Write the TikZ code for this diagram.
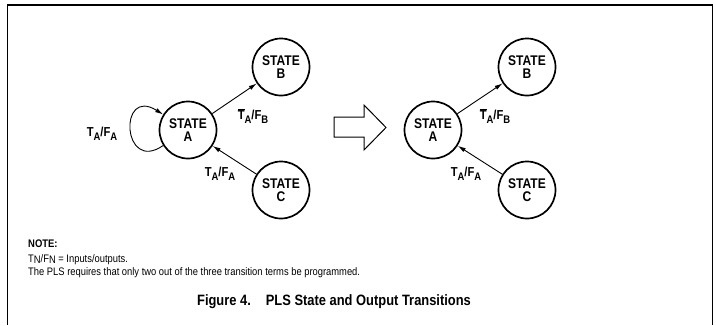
\documentclass[tikz,border=0pt]{standalone}
\usepackage{fontspec}
\setmainfont{Liberation Sans}
\newfontfamily\nfont[FakeStretch=0.86]{Liberation Sans}
\usetikzlibrary{arrows.meta}
\newcommand{\sbA}[1]{\raisebox{-0.28em}{\fontsize{11}{11}\selectfont #1}}
\begin{document}
\begin{tikzpicture}[x=1pt,y=-1pt,
  statenode/.style={circle,draw,line width=1.7pt,minimum size=57pt,inner sep=0pt,align=center,
    font=\nfont\bfseries\fontsize{14}{12.5}\selectfont},
  tr/.style={line width=0.9pt,-{Latex[length=8pt,width=4.5pt]}},
  lbl/.style={inner sep=0pt,font=\nfont\bfseries\fontsize{13}{13}\selectfont},
  notetext/.style={inner sep=0pt,anchor=base west,font=\nfont\fontsize{10.9}{12}\selectfont}]
\useasboundingbox (0,0) rectangle (716,325);
\draw[line width=1.6pt] (7.5,325) -- (7.5,5) -- (712.5,5) -- (712.5,325);
% left diagram
\node[statenode] (A1) at (188,130) {STATE\\A};
\node[statenode] (B1) at (281,67) {STATE\\B};
\node[statenode] (C1) at (281,190) {STATE\\C};
\draw[tr] (A1) -- (B1);
\draw[tr] (C1) -- (A1);
\draw[tr] (A1.212) .. controls (122,174) and (118,86) .. (A1.148);
\node[lbl] (l1) at (102,134) {T\sbA{A}/F\sbA{A}};
\node[lbl] (l2) at (253,116) {$\overline{\mbox{T}}$\sbA{A}/F\sbA{B}};
\node[lbl] (l3) at (220,174) {T\sbA{A}/F\sbA{A}};
% hollow arrow
\draw[line width=1pt,line join=miter] (334,117) -- (364,117) -- (364,105) -- (386,127.5) -- (364,150) -- (364,137) -- (334,137) -- cycle;
% right diagram
\node[statenode] (A2) at (433,130) {STATE\\A};
\node[statenode] (B2) at (527,67) {STATE\\B};
\node[statenode] (C2) at (527,190) {STATE\\C};
\draw[tr] (A2) -- (B2);
\draw[tr] (C2) -- (A2);
\node[lbl] (r2) at (495,116) {$\overline{\mbox{T}}$\sbA{A}/F\sbA{B}};
\node[lbl] (r3) at (466,174) {T\sbA{A}/F\sbA{A}};
% notes
\node[notetext,font=\nfont\bfseries\fontsize{11}{12}\selectfont] (n1) at (28,247) {NOTE:};
\node[notetext] (n2) at (28,262) {T\raisebox{-0.15em}{N}/F\raisebox{-0.15em}{N} = Inputs/outputs.};
\node[notetext] (n3) at (28,275) {The PLS requires that only two out of the three transition terms be programmed.};
\node[inner sep=0pt,anchor=base,font=\nfont\bfseries\fontsize{15}{15}\selectfont] (cap) at (334,305) {Figure 4.\hspace{1em}PLS State and Output Transitions};
\end{tikzpicture}
\end{document}
